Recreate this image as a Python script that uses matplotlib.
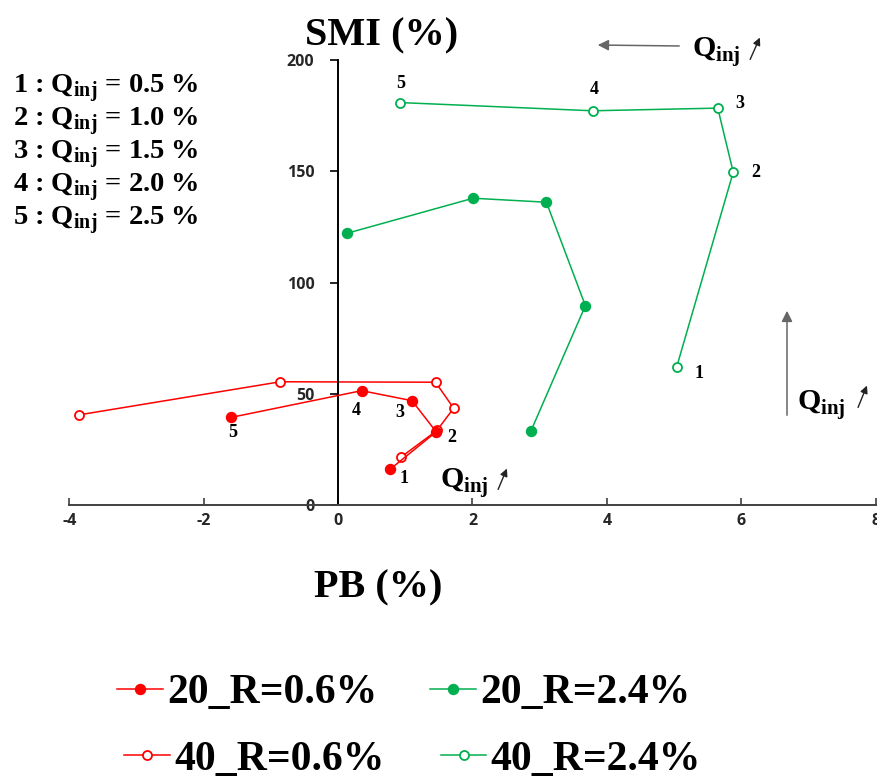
import matplotlib.pyplot as plt

plt.rcParams['mathtext.fontset'] = 'custom'
plt.rcParams['mathtext.bf'] = 'Liberation Serif:bold'
plt.rcParams['mathtext.rm'] = 'Liberation Serif:bold'
plt.rcParams['axes.unicode_minus'] = False

# Valeurs (PB %, SMI %), points 1..5 = Qinj 0.5 .. 2.5 %
red20_x = [0.78, 1.46, 1.10, 0.35, -1.59]
red20_y = [16.2, 32.9, 46.9, 51.4, 39.4]
red40_x = [0.93, 1.47, 1.72, 1.45, -0.86, -3.86]
red40_y = [21.4, 33.5, 43.5, 55.2, 55.4, 40.5]
green20_x = [2.87, 3.68, 3.10, 2.01, 0.14]
green20_y = [33.3, 89.6, 136.1, 137.9, 122.2]
green40_x = [5.04, 5.88, 5.65, 3.79, 0.92]
green40_y = [62.2, 149.6, 178.4, 177.2, 180.9]
point_labels = ['1', '2', '3', '4', '5']
qinj_values = ['0.5', '1.0', '1.5', '2.0', '2.5']
xticks = [-4, -2, 0, 2, 4, 6, 8]
yticks = [0, 50, 100, 150, 200]

RED = '#FF0000'
GREEN = '#00B050'
SERIF = 'Liberation Serif'
W, H = 877, 779


def fpos(x, y):
    # pixel image -> fraction figure
    return x / W, 1 - y / H


fig = plt.figure(figsize=(W / 100, H / 100), dpi=100)
ax = fig.add_axes([0.079, 0.3517, 0.9195, 0.5712])

l_r40, = ax.plot(red40_x, red40_y, '-o', color=RED, lw=1.1, ms=6.5,
                 mfc='white', mec=RED, mew=1.3, zorder=2, label='40_R=0.6%')
l_r20, = ax.plot(red20_x, red20_y, '-o', color=RED, lw=1.1, ms=7.2,
                 zorder=3, label='20_R=0.6%')
l_g20, = ax.plot(green20_x, green20_y, '-o', color=GREEN, lw=1.1, ms=7.2,
                 zorder=3, label='20_R=2.4%')
l_g40, = ax.plot(green40_x, green40_y, '-o', color=GREEN, lw=1.1, ms=6.5,
                 mfc='white', mec=GREEN, mew=1.3, zorder=2, label='40_R=2.4%')

# numéros des points
red_off = [(10, -6.7), (11.5, -4), (-8.6, -8.4), (-3.6, -14.4), (1.4, -11.1)]
green_off = [(16.3, -4.8), (16.3, 0), (16, 3.6), (1.2, 15.6), (0.7, 13.5)]
for i, lab in enumerate(point_labels):
    ax.annotate(lab, (red20_x[i], red20_y[i]), xytext=red_off[i],
                textcoords='offset points', ha='center', va='center',
                family=SERIF, fontweight='bold', fontsize=13)
    ax.annotate(lab, (green40_x[i], green40_y[i]), xytext=green_off[i],
                textcoords='offset points', ha='center', va='center',
                family=SERIF, fontweight='bold', fontsize=13)

ax.set_xlim(-4, 8)
ax.set_ylim(0, 200)
ax.set_xticks(xticks)
ax.set_yticks(yticks)
ax.spines['top'].set_visible(False)
ax.spines['right'].set_visible(False)
ax.spines['left'].set_position(('data', 0))
ax.spines['left'].set_linewidth(1.4)
ax.spines['bottom'].set_linewidth(1.4)
ax.spines['bottom'].set_color('#404040')
ax.tick_params(axis='x', direction='in', length=5, width=1.2, pad=6,
               colors='#404040', labelcolor='#262626')
ax.tick_params(axis='y', direction='out', length=6, width=1.2, pad=11,
               labelcolor='#262626')
for t in ax.get_xticklabels() + ax.get_yticklabels():
    t.set_family('Open Sans')
    t.set_fontweight('bold')
    t.set_fontsize(11.5)

# titres des axes
fig.text(*fpos(382, 45), 'SMI (%)', ha='center', va='baseline',
         family=SERIF, fontweight='bold', fontsize=29)
fig.text(*fpos(378, 597), 'PB (%)', ha='center', va='baseline',
         family=SERIF, fontweight='bold', fontsize=29)

# liste des débits en haut à gauche
for i, (lab, q) in enumerate(zip(point_labels, qinj_values)):
    fig.text(*fpos(12.7, 93.3 + 33 * i), lab + ' : Q$_{\\mathbf{inj}}$ = ' + q + ' %',
             ha='left', va='baseline', family=SERIF, fontweight='bold',
             fontsize=20.5)

# flèches Qinj
big = dict(arrowstyle='-|>', color='#666666', lw=1.1, mutation_scale=16)
small = dict(arrowstyle='-|>', color='#222222', lw=1.0, mutation_scale=11)
ax.annotate('', xy=(595, H - 45), xytext=(682, H - 46),
            xycoords='figure pixels', arrowprops=big, annotation_clip=False)
ax.annotate('', xy=(787, H - 308), xytext=(787, H - 418),
            xycoords='figure pixels', arrowprops=big, annotation_clip=False)
for tx, ty, a0, a1 in [(692, 57, (749, 62), (761, 35)),
                       (797, 410, (857, 410), (868, 383)),
                       (440, 488, (497, 492), (508, 466))]:
    fig.text(*fpos(tx, ty), 'Q$_{\\mathbf{inj}}$', ha='left', va='baseline',
             family=SERIF, fontweight='bold', fontsize=21.5)
    ax.annotate('', xy=(a1[0], H - a1[1]), xytext=(a0[0], H - a0[1]),
                xycoords='figure pixels', arrowprops=small,
                annotation_clip=False)

# légende en deux lignes
leg_kw = dict(ncol=2, frameon=False, loc='center left',
              prop={'family': SERIF, 'weight': 'bold', 'size': 30},
              handlelength=1.1, handletextpad=0.1, borderpad=0,
              borderaxespad=0, markerscale=1.0)
fig.legend([l_r20, l_g20], ['20_R=0.6%', '20_R=2.4%'],
           bbox_to_anchor=fpos(117, 693), columnspacing=1.27, **leg_kw)
fig.legend([l_r40, l_g40], ['40_R=0.6%', '40_R=2.4%'],
           bbox_to_anchor=fpos(124, 760), columnspacing=1.35, **leg_kw)

fig.savefig('out.png', dpi=100)
